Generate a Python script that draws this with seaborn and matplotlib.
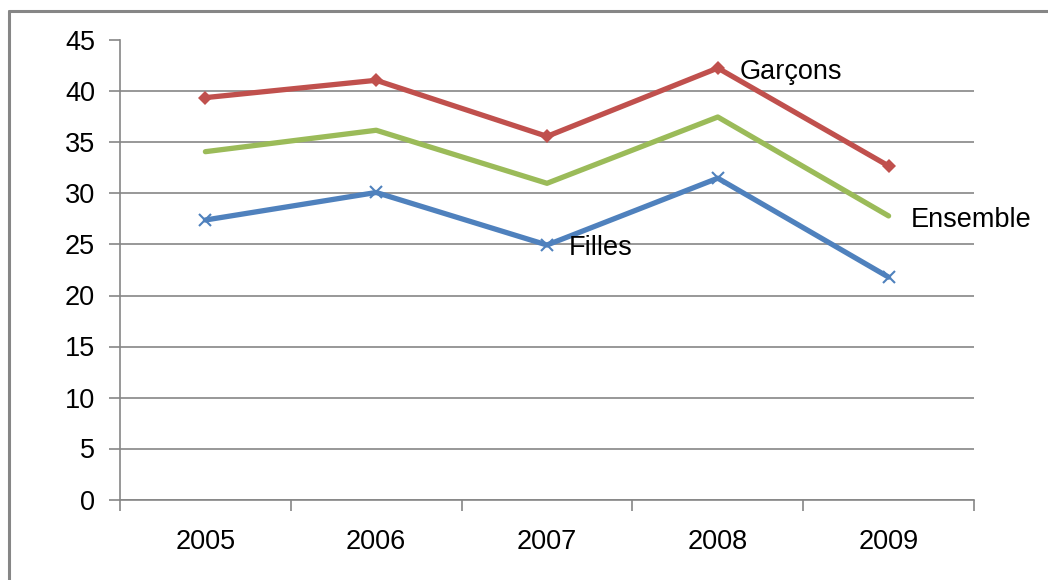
import matplotlib
matplotlib.use("Agg")
import matplotlib.pyplot as plt
import seaborn as sns
import pandas as pd
from matplotlib.lines import Line2D

years = [2005, 2006, 2007, 2008, 2009]
garcons = [39.4, 41.1, 35.6, 42.3, 32.7]
ensemble = [34.1, 36.2, 31.0, 37.5, 27.8]
filles = [27.4, 30.1, 24.95, 31.5, 21.8]
y_ticks = [0, 5, 10, 15, 20, 25, 30, 35, 40, 45]

sns.set_theme(style="white")
plt.rcParams['font.family'] = ['Liberation Sans', 'DejaVu Sans']
plt.rcParams['text.color'] = 'black'

df = pd.DataFrame({
    "year": years * 3,
    "value": garcons + ensemble + filles,
    "serie": ["Garçons"] * 5 + ["Ensemble"] * 5 + ["Filles"] * 5,
})

fig = plt.figure(figsize=(10.48, 5.8), dpi=100)
ax = fig.add_axes([120 / 1048, 1 - 499.5 / 580, (974 - 120) / 1048, (499.5 - 40.5) / 580])

palette = {"Garçons": "#C0504D", "Ensemble": "#9BBB59", "Filles": "#4F81BD"}
markers = {"Garçons": "D", "Ensemble": "", "Filles": "x"}
for name in ["Filles", "Ensemble", "Garçons"]:
    sub = df[df["serie"] == name]
    sns.lineplot(data=sub, x="year", y="value", ax=ax, color=palette[name],
                 linewidth=3.8, marker=markers[name] if markers[name] else None,
                 markersize=7 if name == "Garçons" else 9,
                 markeredgewidth=1.5 if name == "Filles" else 0,
                 markeredgecolor=palette[name], legend=False, zorder=3)

FS = 19.5
ax.set_xlim(2004.5, 2009.5)
ax.set_ylim(0, 45)
ax.set_yticks(y_ticks)
ax.set_xticks(years)
ax.set_xticks([2004.5 + i for i in range(6)], minor=True)
ax.set_xlabel("")
ax.set_ylabel("")
ax.grid(axis="y", color="#868686", linewidth=1.2, zorder=0)
ax.set_axisbelow(True)
for s in ["top", "right"]:
    ax.spines[s].set_visible(False)
for s in ["left", "bottom"]:
    ax.spines[s].set_color("#868686")
    ax.spines[s].set_linewidth(1.2)
ax.tick_params(axis="y", which="major", length=8, width=1.2, color="#868686",
               labelsize=FS, labelcolor="black", pad=10, left=True)
ax.tick_params(axis="x", which="major", length=0, labelsize=FS, labelcolor="black", pad=21)
ax.tick_params(axis="x", which="minor", length=8, width=1.2, color="#868686", bottom=True)

ax.text(2008.13, 41.9, "Garçons", fontsize=FS, va="center", ha="left", color="black")
ax.text(2009.13, 27.4, "Ensemble", fontsize=FS, va="center", ha="left", color="black", clip_on=False)
ax.text(2007.13, 24.7, "Filles", fontsize=FS, va="center", ha="left", color="black")

fig.add_artist(Line2D([9 / 1048, 9 / 1048], [0, 1 - 11 / 580], color="#868686", linewidth=2.2))
fig.add_artist(Line2D([9 / 1048, 1], [1 - 11 / 580, 1 - 11 / 580], color="#868686", linewidth=2.2))

fig.savefig("out.png", dpi=100)
